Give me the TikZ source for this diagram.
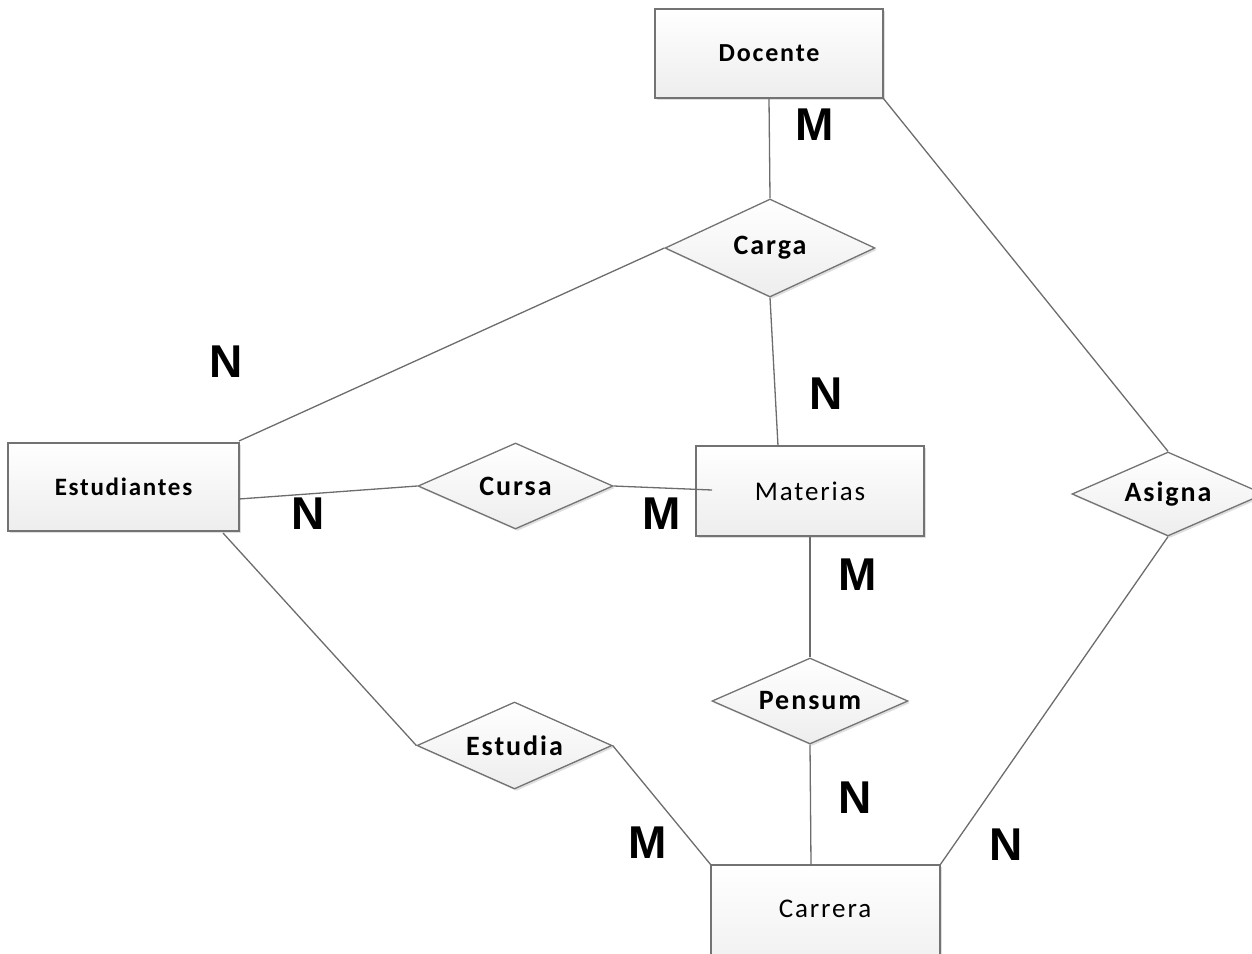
\documentclass[tikz,border=0pt]{standalone}
\usepackage{fontspec}
\setmainfont{Carlito}
\newfontfamily\spaced[LetterSpace=7]{Carlito}
\newfontfamily\cardfont{Liberation Sans}
\usetikzlibrary{shapes.geometric,shadows}
\tikzset{
  ent/.style={draw=gray!90!black, line width=1.3pt, rectangle, top color=white, bottom color=gray!14,
    drop shadow={shadow xshift=2pt, shadow yshift=-2pt, opacity=0.25, fill=gray},
    minimum width=228pt, minimum height=89pt, inner sep=0pt, font=\spaced\fontsize{27}{30}\selectfont},
  rel/.style={draw=gray!90!black, line width=1.3pt, diamond, aspect=2, top color=white, bottom color=gray!14,
    drop shadow={shadow xshift=2pt, shadow yshift=-2pt, opacity=0.25, fill=gray},
    inner sep=0pt, font=\spaced\bfseries\fontsize{28}{30}\selectfont},
  conn/.style={draw=gray!85!black, line width=1.3pt},
  card/.style={font=\cardfont\bfseries\fontsize{46}{50}\selectfont, inner sep=0pt}
}
\begin{document}
\begin{tikzpicture}[x=1pt,y=-1pt]
\useasboundingbox (0,0) rectangle (1252,953);
\begin{scope}
\clip (0,0) rectangle (1252,953);
% entities
\node[ent, font=\spaced\bfseries\fontsize{26}{30}\selectfont] (doc) at (769,53.5) {Docente};
\node[ent, minimum width=231pt, minimum height=88pt, font=\spaced\bfseries\fontsize{25}{30}\selectfont] (est) at (123.5,487) {Estudiantes};
\node[ent, minimum height=90pt] (mat) at (810,491) {Materias};
\node[ent, minimum width=229pt, minimum height=120pt] (car) at (825.5,925) {};
\node[font=\spaced\fontsize{27}{30}\selectfont] (cartext) at (825,909) {Carrera};
% relationships
\node[rel, minimum width=210pt, minimum height=98pt] (carga) at (770,248) {Carga};
\node[rel, minimum width=195pt, minimum height=86pt] (cursa) at (515.5,486) {Cursa};
\node[rel, minimum width=196pt, minimum height=86pt] (pensum) at (810,701) {Pensum};
\node[rel, minimum width=195pt, minimum height=87pt] (estudia) at (514.5,745.5) {Estudia};
\node[rel, minimum width=192pt, minimum height=84pt] (asigna) at (1168,494) {Asigna};
% connectors
\coordinate (estTR) at (239,441);
\coordinate (estR) at (239,499);
\coordinate (estB) at (223,533);
\coordinate (matIn) at (712,490);
\coordinate (matT) at (778,446);
\coordinate (carTL) at (711,865);
\coordinate (carT) at (811,865);
\coordinate (carTR) at (940,865);
\coordinate (docBR) at (883,98);
\draw[conn] (doc.south) -- (carga.north);
\draw[conn] (carga.west) -- (estTR);
\draw[conn] (carga.south) -- (matT);
\draw[conn] (estR) -- (cursa.west);
\draw[conn] (cursa.east) -- (matIn);
\draw[conn] (mat.south) -- (pensum.north);
\draw[conn] (pensum.south) -- (carT);
\draw[conn] (estB) -- (estudia.west);
\draw[conn] (estudia.east) -- (carTL);
\draw[conn] (docBR) -- (asigna.north);
\draw[conn] (asigna.south) -- (carTR);
% cardinalities
\node[card] (c1) at (815,125) {M};
\node[card] (c2) at (226,362) {N};
\node[card] (c3) at (826,394) {N};
\node[card] (c4) at (308,514) {N};
\node[card] (c5) at (662,514) {M};
\node[card] (c6) at (858,575) {M};
\node[card] (c7) at (855,798) {N};
\node[card] (c8) at (648,843) {M};
\node[card] (c9) at (1006,845) {N};
\end{scope}
\end{tikzpicture}
\end{document}
